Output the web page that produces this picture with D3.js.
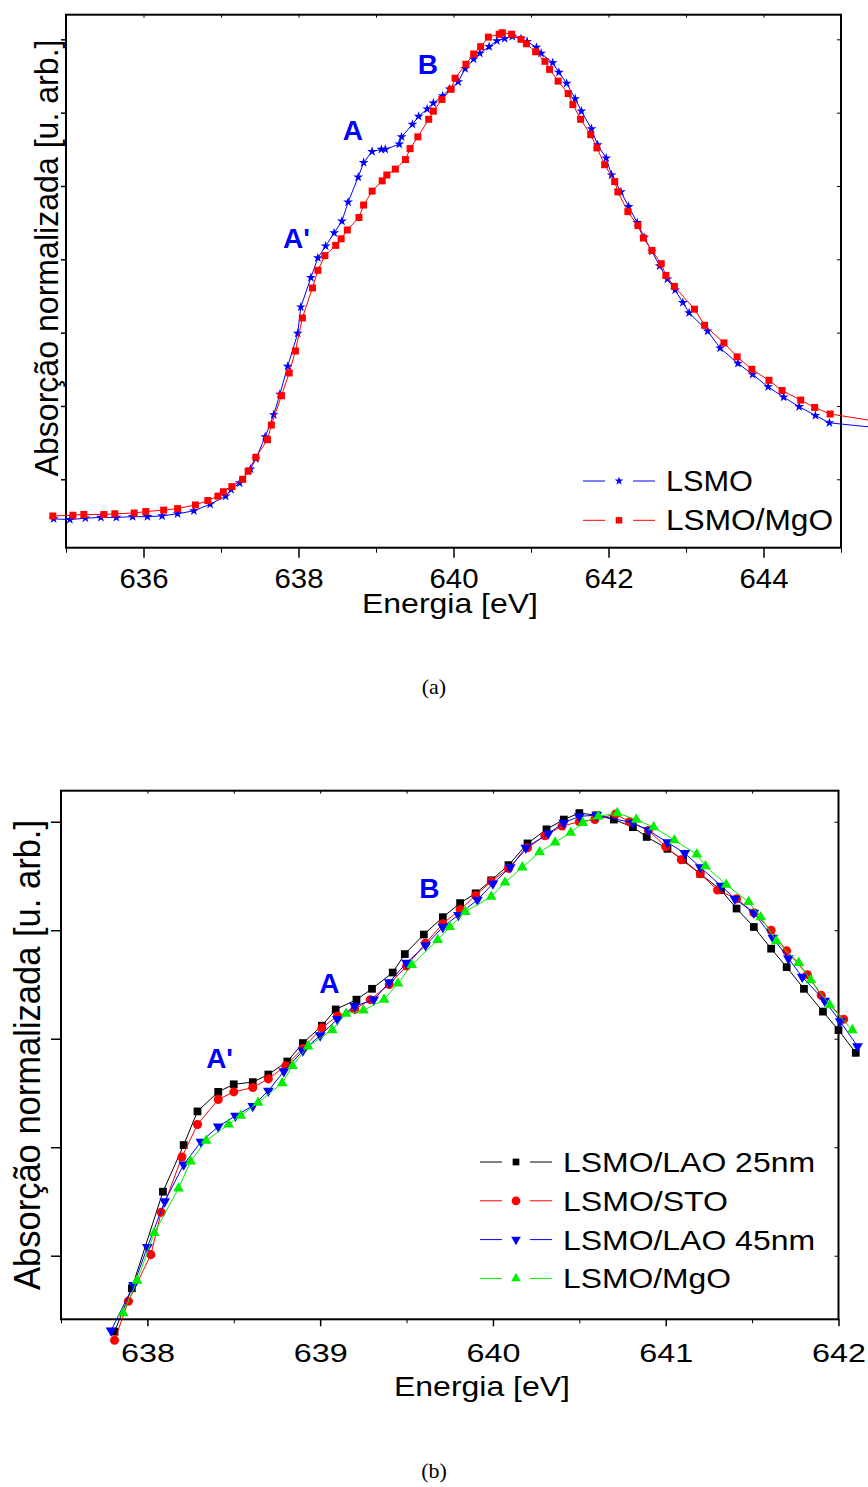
<!DOCTYPE html>
<html>
<head>
<meta charset="utf-8">
<script src="https://cdn.jsdelivr.net/npm/d3@7/dist/d3.min.js"></script>
<style>
	body { margin: 0; background: #fff; }
	svg { display: block; }
	text { font-family: "Liberation Sans", Arial, sans-serif; }
</style>
</head>
<body>
<div id="chart"></div>
<script>
// ---- panel (a): LSMO vs LSMO/MgO ----
const energyLsmoA = [634.84, 635.05, 635.25, 635.45, 635.65, 635.86, 636.05, 636.24, 636.44, 636.65, 636.86, 637.06, 637.13, 637.24, 637.38, 637.45, 637.57, 637.68, 637.76, 637.86, 637.99, 638.03, 638.16, 638.25, 638.35, 638.46, 638.56, 638.64, 638.77, 638.84, 638.95, 639.07, 639.12, 639.30, 639.33, 639.47, 639.55, 639.66, 639.74, 639.86, 639.95, 640.06, 640.15, 640.26, 640.34, 640.46, 640.56, 640.66, 640.76, 640.87, 640.95, 641.07, 641.13, 641.28, 641.36, 641.46, 641.57, 641.65, 641.78, 641.86, 641.97, 642.04, 642.16, 642.26, 642.37, 642.46, 642.56, 642.66, 642.76, 642.86, 642.96, 643.04, 643.28, 643.44, 643.67, 643.86, 644.06, 644.26, 644.46, 644.67, 644.85, 645.40];
const absLsmoA = [-0.54, -0.55, -0.53, -0.52, -0.52, -0.51, -0.51, -0.50, -0.47, -0.43, -0.34, -0.23, -0.14, -0.05, 0.14, 0.28, 0.58, 0.88, 1.16, 1.54, 1.99, 2.35, 2.75, 3.02, 3.18, 3.36, 3.52, 3.78, 4.12, 4.32, 4.47, 4.50, 4.50, 4.57, 4.67, 4.84, 4.95, 5.05, 5.13, 5.23, 5.32, 5.42, 5.60, 5.73, 5.81, 5.90, 5.98, 6.01, 6.04, 6.01, 5.97, 5.89, 5.81, 5.68, 5.55, 5.40, 5.19, 5.02, 4.78, 4.56, 4.38, 4.15, 3.92, 3.72, 3.50, 3.30, 3.11, 2.91, 2.73, 2.58, 2.41, 2.27, 2.02, 1.79, 1.58, 1.43, 1.26, 1.12, 0.99, 0.87, 0.77, 0.71];

const energyMgoA = [634.83, 635.09, 635.23, 635.49, 635.63, 635.88, 636.03, 636.26, 636.44, 636.67, 636.83, 636.96, 637.03, 637.14, 637.28, 637.35, 637.45, 637.60, 637.65, 637.78, 637.88, 637.96, 638.05, 638.18, 638.25, 638.34, 638.48, 638.55, 638.63, 638.78, 638.84, 638.95, 639.08, 639.14, 639.25, 639.38, 639.44, 639.54, 639.68, 639.74, 639.85, 639.97, 640.02, 640.16, 640.26, 640.35, 640.45, 640.59, 640.63, 640.75, 640.87, 640.94, 641.06, 641.18, 641.24, 641.35, 641.48, 641.54, 641.64, 641.77, 641.85, 641.95, 642.08, 642.12, 642.25, 642.38, 642.45, 642.56, 642.68, 642.74, 642.85, 643.11, 643.24, 643.49, 643.66, 643.85, 644.07, 644.24, 644.48, 644.66, 644.86, 645.40];
const absMgoA = [-0.50, -0.49, -0.48, -0.48, -0.47, -0.46, -0.44, -0.42, -0.40, -0.35, -0.29, -0.23, -0.17, -0.10, 0.00, 0.11, 0.30, 0.54, 0.74, 1.14, 1.45, 1.75, 2.20, 2.61, 2.85, 3.05, 3.19, 3.28, 3.40, 3.57, 3.74, 3.93, 4.07, 4.15, 4.23, 4.36, 4.51, 4.67, 4.91, 5.02, 5.18, 5.32, 5.47, 5.66, 5.80, 5.90, 6.03, 6.07, 6.09, 6.07, 6.00, 5.94, 5.83, 5.70, 5.59, 5.43, 5.26, 5.11, 4.91, 4.70, 4.52, 4.29, 4.06, 3.92, 3.65, 3.46, 3.29, 3.12, 2.94, 2.78, 2.63, 2.32, 2.10, 1.86, 1.67, 1.50, 1.35, 1.21, 1.08, 0.98, 0.89, 0.80];

// ---- panel (b): four substrates ----
const energyLao25 = [637.81, 637.91, 638.09, 638.21, 638.29, 638.41, 638.50, 638.61, 638.70, 638.81, 638.90, 639.01, 639.09, 639.21, 639.30, 639.42, 639.49, 639.60, 639.71, 639.81, 639.90, 639.99, 640.09, 640.20, 640.31, 640.41, 640.50, 640.60, 640.70, 640.81, 640.89, 641.01, 641.10, 641.20, 641.32, 641.41, 641.51, 641.61, 641.70, 641.80, 641.91, 642.00, 642.10];
const absLao25 = [-0.70, -0.30, 0.59, 1.02, 1.33, 1.51, 1.58, 1.60, 1.67, 1.79, 1.96, 2.12, 2.27, 2.36, 2.46, 2.61, 2.78, 2.96, 3.12, 3.25, 3.34, 3.46, 3.60, 3.80, 3.93, 4.02, 4.08, 4.06, 4.02, 3.95, 3.86, 3.75, 3.65, 3.52, 3.37, 3.20, 3.03, 2.83, 2.66, 2.46, 2.25, 2.08, 1.87];

const energySto = [637.81, 637.89, 638.02, 638.08, 638.20, 638.29, 638.41, 638.50, 638.61, 638.70, 638.80, 638.90, 639.01, 639.10, 639.20, 639.29, 639.40, 639.50, 639.61, 639.71, 639.81, 639.90, 639.99, 640.09, 640.20, 640.30, 640.40, 640.50, 640.59, 640.71, 640.79, 640.90, 641.00, 641.09, 641.20, 641.30, 641.41, 641.51, 641.61, 641.70, 641.82, 641.90, 642.03];
const absSto = [-0.78, -0.42, 0.01, 0.40, 0.91, 1.21, 1.44, 1.51, 1.55, 1.63, 1.75, 1.91, 2.10, 2.21, 2.27, 2.36, 2.50, 2.67, 2.88, 3.06, 3.19, 3.32, 3.45, 3.57, 3.76, 3.87, 3.96, 4.00, 4.02, 4.07, 4.00, 3.92, 3.77, 3.65, 3.52, 3.37, 3.29, 3.16, 3.00, 2.81, 2.59, 2.40, 2.18];

const energyLao45 = [637.79, 637.92, 638.00, 638.10, 638.21, 638.31, 638.41, 638.51, 638.61, 638.70, 638.79, 638.90, 639.00, 639.10, 639.20, 639.31, 639.40, 639.50, 639.61, 639.71, 639.80, 639.91, 640.00, 640.10, 640.19, 640.32, 640.41, 640.50, 640.60, 640.81, 640.90, 641.01, 641.11, 641.20, 641.32, 641.40, 641.51, 641.62, 641.71, 641.79, 641.92, 642.01, 642.11];
const absLao45 = [-0.69, -0.27, 0.08, 0.50, 0.84, 1.05, 1.19, 1.29, 1.38, 1.52, 1.70, 1.89, 2.03, 2.18, 2.30, 2.36, 2.52, 2.70, 2.86, 3.03, 3.14, 3.28, 3.43, 3.58, 3.76, 3.89, 3.99, 4.05, 4.06, 3.99, 3.92, 3.81, 3.71, 3.58, 3.41, 3.29, 3.16, 2.93, 2.74, 2.57, 2.35, 2.16, 1.93];

const energyMgoB = [637.86, 637.94, 638.04, 638.18, 638.25, 638.34, 638.47, 638.54, 638.64, 638.78, 638.84, 638.93, 639.07, 639.15, 639.25, 639.37, 639.45, 639.53, 639.68, 639.75, 639.84, 639.99, 640.07, 640.17, 640.27, 640.36, 640.45, 640.52, 640.61, 640.72, 640.83, 640.93, 641.05, 641.18, 641.23, 641.35, 641.48, 641.55, 641.64, 641.77, 641.84, 641.95, 642.08];
const absMgoB = [-0.53, -0.23, 0.21, 0.62, 0.87, 1.06, 1.21, 1.29, 1.41, 1.59, 1.75, 1.93, 2.08, 2.23, 2.26, 2.36, 2.51, 2.68, 2.91, 3.03, 3.17, 3.31, 3.44, 3.58, 3.72, 3.81, 3.90, 3.99, 4.05, 4.08, 4.02, 3.95, 3.83, 3.70, 3.59, 3.42, 3.26, 3.12, 2.90, 2.70, 2.54, 2.31, 2.08];

// labels and ticks
const legendA = ['LSMO', 'LSMO/MgO'];
const legendB = ['LSMO/LAO 25nm', 'LSMO/STO', 'LSMO/LAO 45nm', 'LSMO/MgO'];
const xMajorA = [636, 638, 640, 642, 644];
const xMinorA = [635, 637, 639, 641, 643, 645];
const xTopA = [636, 637, 638, 639, 640, 641, 642, 643, 644];
const xMajorB = [638, 639, 640, 641, 642];
const xMinorB = [637.5, 638.5, 639.5, 640.5, 641.5];
const xTopB = [638, 638.5, 639, 639.5, 640, 640.5, 641, 641.5];
const yTicksA = [0, 1, 2, 3, 4, 5, 6];
const yTicksB = [0, 1, 2, 3, 4];
const peakNames = ["A'", 'A', 'B'];
const peakPosA = [[637.80, 3.16], [638.57, 4.63], [639.54, 5.53]];
const peakPosB = [[638.34, 1.73], [638.995, 2.42], [639.574, 3.30]];
const xTitle = 'Energia [eV]';
const yTitle = 'Absorção normalizada [u. arb.]';

const svg = d3.select('#chart')
	.append('svg')
	.attr('width', 868)
	.attr('height', 1487);

// triangle markers centred on the point
const triDown = {
	draw(ctx, size) {
		const s = Math.sqrt(size * 4 / Math.sqrt(3));
		const h = s * Math.sqrt(3) / 2;
		ctx.moveTo(-s / 2, -h / 3);
		ctx.lineTo(s / 2, -h / 3);
		ctx.lineTo(0, 2 * h / 3);
		ctx.closePath();
	}
};
const triUp = {
	draw(ctx, size) {
		const s = Math.sqrt(size * 4 / Math.sqrt(3));
		const h = s * Math.sqrt(3) / 2;
		ctx.moveTo(-s / 2, h / 3);
		ctx.lineTo(s / 2, h / 3);
		ctx.lineTo(0, -2 * h / 3);
		ctx.closePath();
	}
};

function drawPanel(p) {
	const g = svg.append('g');
	const [x0, x1] = p.x.range();
	const [yb, yt] = p.y.range();

	// minor bottom ticks
	g.append('g')
		.attr('transform', `translate(0,${yb})`)
		.call(d3.axisBottom(p.x).tickValues(p.xMinor).tickSize(p.minorLen).tickFormat(''))
		.call((a) => a.select('.domain').remove());

	// major bottom ticks with labels
	const bottom = g.append('g')
		.attr('transform', `translate(0,${yb})`)
		.call(d3.axisBottom(p.x).tickValues(p.xMajor).tickSize(p.majorLen).tickPadding(p.pad).tickFormat(d3.format('d')))
		.call((a) => a.select('.domain').remove());
	bottom.selectAll('line').attr('stroke-width', 1.5);
	bottom.selectAll('text')
		.attr('fill', '#000')
		.style('font-size', p.tickFont + 'px')
		.attr('textLength', p.tickWidth)
		.attr('lengthAdjust', 'spacingAndGlyphs');

	// top ticks (inward)
	g.append('g')
		.attr('transform', `translate(0,${yt})`)
		.call(d3.axisTop(p.x).tickValues(p.xTop).tickSize(-3).tickFormat(''))
		.call((a) => a.select('.domain').remove());

	// left ticks (outward, no labels)
	g.append('g')
		.attr('transform', `translate(${x0},0)`)
		.call(d3.axisLeft(p.y).tickValues(p.yTicks).tickSize(p.leftLen).tickFormat(''))
		.call((a) => a.select('.domain').remove())
		.selectAll('line').attr('stroke-width', 1.5);

	// right ticks (inward)
	g.append('g')
		.attr('transform', `translate(${x1},0)`)
		.call(d3.axisRight(p.y).tickValues(p.yTicks).tickSize(-4).tickFormat(''))
		.call((a) => a.select('.domain').remove());

	// frame
	g.append('rect')
		.attr('x', x0)
		.attr('y', yt)
		.attr('width', x1 - x0)
		.attr('height', yb - yt)
		.attr('fill', 'none')
		.attr('stroke', '#000')
		.attr('stroke-width', 2);

	// series lines and markers
	p.series.forEach((s) => {
		const pts = s.e.map((e, i) => [e, s.v[i]]);
		g.append('path')
			.attr('d', d3.line().x((d) => p.x(d[0])).y((d) => p.y(d[1]))(pts))
			.attr('fill', 'none')
			.attr('stroke', s.color)
			.attr('stroke-width', 1);
		g.selectAll(null)
			.data(pts)
			.enter()
			.append('path')
			.attr('transform', (d) => `translate(${p.x(d[0])},${p.y(d[1])})`)
			.attr('d', d3.symbol().type(s.symbol).size(s.size))
			.attr('fill', s.color);
	});

	// peak labels
	peakNames.forEach((name, i) => {
		g.append('text')
			.attr('x', p.x(p.peaks[i][0]))
			.attr('y', p.y(p.peaks[i][1]))
			.attr('fill', '#0000ff')
			.attr('font-weight', 'bold')
			.style('font-size', '28px')
			.text(name);
	});

	// legend
	p.series.forEach((s, i) => {
		const ly = p.legY + i * p.legStep;
		const lx = p.legX;
		g.append('line').attr('x1', lx).attr('x2', lx + 22).attr('y1', ly).attr('y2', ly)
			.attr('stroke', s.color).attr('stroke-width', 1);
		g.append('line').attr('x1', lx + 50).attr('x2', lx + 72).attr('y1', ly).attr('y2', ly)
			.attr('stroke', s.color).attr('stroke-width', 1);
		g.append('path')
			.attr('transform', `translate(${lx + 36},${ly})`)
			.attr('d', d3.symbol().type(s.symbol).size(s.legSize))
			.attr('fill', s.color);
		g.append('text')
			.attr('x', lx + 83)
			.attr('y', ly + 10)
			.style('font-size', p.legFont + 'px')
			.attr('textLength', s.legWidth)
			.attr('lengthAdjust', 'spacingAndGlyphs')
			.text(s.name);
	});

	// axis titles
	g.append('text')
		.attr('x', p.xTitleX)
		.attr('y', p.xTitleY)
		.attr('text-anchor', 'middle')
		.style('font-size', '28px')
		.attr('textLength', 176)
		.attr('lengthAdjust', 'spacingAndGlyphs')
		.text(xTitle);
	g.append('text')
		.attr('transform', `translate(${p.yTitleX},${p.yTitleY}) rotate(-90)`)
		.attr('text-anchor', 'middle')
		.style('font-size', p.yTitleFont + 'px')
		.attr('textLength', p.yTitleLen)
		.attr('lengthAdjust', 'spacingAndGlyphs')
		.text(yTitle);

	// caption
	svg.append('text')
		.attr('x', 434)
		.attr('y', p.capY)
		.attr('text-anchor', 'middle')
		.style('font-family', '"Liberation Serif", "DejaVu Serif", serif')
		.style('font-size', '22px')
		.text(p.caption);
}

drawPanel({
	x: d3.scaleLinear().domain([635, 645]).range([66, 841]),
	y: d3.scaleLinear().domain([-0.933, 6.336]).range([547.7, 14.7]),
	xMajor: xMajorA, xMinor: xMinorA, xTop: xTopA, yTicks: yTicksA,
	majorLen: 10, minorLen: 5, leftLen: 5, pad: 11,
	tickFont: 27, tickWidth: 49,
	series: [
		{ name: legendA[0], e: energyLsmoA, v: absLsmoA, color: '#0000ff', symbol: d3.symbolStar, size: 30, legSize: 24, legWidth: 87 },
		{ name: legendA[1], e: energyMgoA, v: absMgoA, color: '#ff0000', symbol: d3.symbolSquare, size: 49, legSize: 42, legWidth: 167 },
	],
	peaks: peakPosA,
	legX: 583, legY: 481, legStep: 39.3, legFont: 29,
	xTitleX: 450, xTitleY: 613,
	yTitleX: 58, yTitleY: 258, yTitleFont: 34, yTitleLen: 437,
	capY: 694, caption: '(a)',
});

drawPanel({
	x: d3.scaleLinear().domain([637.5, 642]).range([61, 838.5]),
	y: d3.scaleLinear().domain([-0.586, 4.286]).range([1319.3, 790.7]),
	xMajor: xMajorB, xMinor: xMinorB, xTop: xTopB, yTicks: yTicksB,
	majorLen: 7, minorLen: 4, leftLen: 10, pad: 17,
	tickFont: 26, tickWidth: 54,
	series: [
		{ name: legendB[0], e: energyLao25, v: absLao25, color: '#000000', symbol: d3.symbolSquare, size: 60, legSize: 45, legWidth: 252 },
		{ name: legendB[1], e: energySto, v: absSto, color: '#ff0000', symbol: d3.symbolCircle, size: 64, legSize: 60, legWidth: 165 },
		{ name: legendB[2], e: energyLao45, v: absLao45, color: '#0000ff', symbol: triDown, size: 50, legSize: 40, legWidth: 252 },
		{ name: legendB[3], e: energyMgoB, v: absMgoB, color: '#00ee00', symbol: triUp, size: 50, legSize: 40, legWidth: 168 },
	],
	peaks: peakPosB,
	legX: 480, legY: 1162, legStep: 38.8, legFont: 28,
	xTitleX: 482, xTitleY: 1396,
	yTitleX: 40, yTitleY: 1055, yTitleFont: 37, yTitleLen: 470,
	capY: 1478, caption: '(b)',
});
</script>
</body>
</html>
